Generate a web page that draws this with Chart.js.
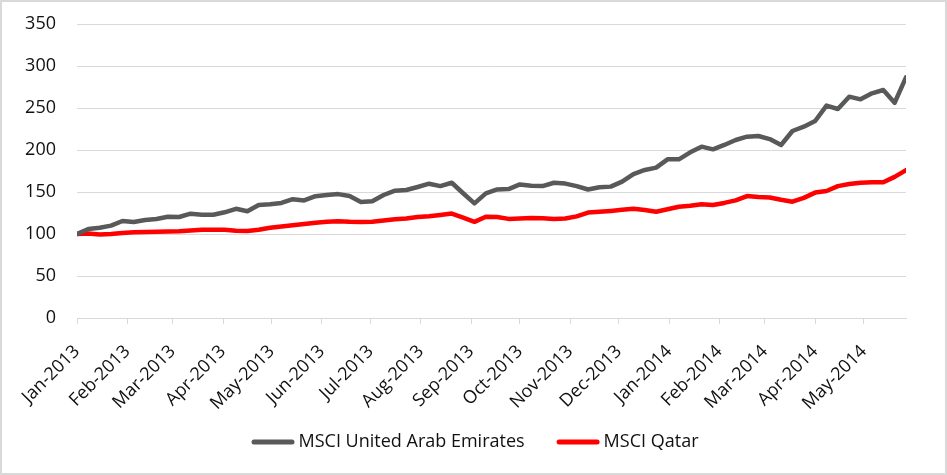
<!DOCTYPE html>
<html>
<head>
<meta charset="utf-8">
<script src="https://cdn.jsdelivr.net/npm/chart.js@4.4.1/dist/chart.umd.min.js"></script>
<style>
  html, body { margin: 0; padding: 0; background: #fff; }
  #wrap { width: 947px; height: 475px; position: relative; }
</style>
</head>
<body>
<div id="wrap"><canvas id="myChart"></canvas></div>
<script>
// weekly index values, rebased to 100 at the start of Jan 2013
const startYear = 2013;
const monthLabels = ['Jan-2013', 'Feb-2013', 'Mar-2013', 'Apr-2013', 'May-2013', 'Jun-2013',
  'Jul-2013', 'Aug-2013', 'Sep-2013', 'Oct-2013', 'Nov-2013', 'Dec-2013',
  'Jan-2014', 'Feb-2014', 'Mar-2014', 'Apr-2014', 'May-2014'];

const uae = [100, 106, 107.5, 110, 115.5, 114.3, 116.7, 117.9, 120.6, 120.2,
  124.2, 123, 123, 125.8, 130, 127, 134.5, 135.5, 137, 141.5,
  140, 145, 146.5, 147.5, 145.2, 138, 138.9, 146.4, 151.6, 152.4,
  156, 159.9, 157, 161, 148.5, 136.5, 148.4, 153, 153.5, 159,
  157.5, 157, 161, 160, 157, 153, 155.6, 156.4, 162.3, 171.4,
  176.2, 179, 188.9, 188.9, 197.2, 204, 200.8, 206, 211.9, 215.9,
  216.7, 213, 206, 222.6, 227.8, 234.5, 252.8, 248.8, 263.5, 260.3,
  267.5, 271.4, 256.3, 286.5];

const qatar = [100, 100.5, 99.3, 100, 101.2, 102, 102.5, 102.7, 103, 103.3,
  104.3, 105, 105, 105, 104, 103.5, 105, 107.5, 109, 110.5,
  112, 113.5, 114.5, 115.3, 114.5, 114.3, 114.5, 116, 117.5, 118.5,
  120.3, 121.2, 122.7, 124.3, 119.5, 114.5, 120.5, 120.3, 118, 118.5,
  119, 118.8, 117.8, 118.5, 121, 125.5, 126.5, 127.5, 128.8, 130,
  128.5, 126.5, 129.5, 132.5, 133.7, 135.5, 134.5, 137, 140, 145.2,
  144, 143.5, 140.8, 138.5, 143, 149.3, 151.2, 157, 159.5, 161,
  161.5, 161.5, 168, 176];

const yTicks = [0, 50, 100, 150, 200, 250, 300, 350];

// days since 1 Jan 2013
const dayMs = 86400000;
const monthDays = monthLabels.map((m, i) => (Date.UTC(startYear, i, 1) - Date.UTC(startYear, 0, 1)) / dayMs);
const toPoints = arr => arr.map((v, k) => ({x: k * 7, y: v}));
const lastDay = (uae.length - 1) * 7;

const frame = {
  id: 'frame',
  beforeDraw(chart) {
    const c = chart.ctx;
    c.save();
    c.fillStyle = '#ffffff';
    c.fillRect(0, 0, chart.width, chart.height);
    c.strokeStyle = '#d9d9d9';
    c.lineWidth = 2;
    c.strokeRect(1, 1, chart.width - 2, chart.height - 2);
    c.restore();
  }
};

// legend drawn by hand so its spacing can match the original
const lineLegend = {
  id: 'lineLegend',
  afterDraw(chart, args, opts) {
    const c = chart.ctx;
    const sets = chart.data.datasets;
    c.save();
    c.font = '18px "Open Sans", "DejaVu Sans", sans-serif';
    c.textBaseline = 'middle';
    c.textAlign = 'left';
    const widths = sets.map(d => c.measureText(d.label).width);
    let total = 0;
    widths.forEach((w, i) => { total += opts.mark + opts.gap + w + (i ? opts.spacing : 0); });
    let x = opts.centerX - total / 2;
    sets.forEach((d, i) => {
      c.strokeStyle = d.borderColor;
      c.lineWidth = 5;
      c.lineCap = 'round';
      c.beginPath();
      c.moveTo(x + 2.5, opts.y);
      c.lineTo(x + opts.mark - 2.5, opts.y);
      c.stroke();
      c.fillStyle = '#111111';
      c.fillText(d.label, x + opts.mark + opts.gap, opts.y);
      x += opts.mark + opts.gap + widths[i] + opts.spacing;
    });
    c.restore();
  }
};

const canvas = document.getElementById('myChart');
const ctx = canvas.getContext('2d');
Chart.defaults.font.family = '"Open Sans", "DejaVu Sans", sans-serif';
Chart.defaults.font.size = 18;
Chart.defaults.color = '#111111';

const myChart = new Chart(ctx, {
  type: 'line',
  data: {
    datasets: [{
      label: 'MSCI United Arab Emirates',
      data: toPoints(uae),
      borderColor: '#58595B',
      backgroundColor: '#58595B',
      borderWidth: 4.5,
      borderCapStyle: 'round',
      borderJoinStyle: 'round',
      pointRadius: 0,
      fill: false,
      tension: 0
    },
    {
      label: 'MSCI Qatar',
      data: toPoints(qatar),
      borderColor: '#FF0000',
      backgroundColor: '#FF0000',
      borderWidth: 4.5,
      borderCapStyle: 'round',
      borderJoinStyle: 'round',
      pointRadius: 0,
      fill: false,
      tension: 0
    }]
  },
  options: {
    responsive: true,
    maintainAspectRatio: false,
    animation: false,
    layout: { padding: { top: 24, bottom: 52, left: 0, right: 0 } },
    plugins: {
      tooltip: { enabled: false },
      legend: { display: false },
      lineLegend: { centerX: 475, y: 442, mark: 43, gap: 4, spacing: 32 }
    },
    scales: {
      x: {
        type: 'linear',
        min: 0,
        max: lastDay,
        afterBuildTicks: s => { s.ticks = monthDays.map(v => ({value: v})); },
        afterFit: s => { s.height = 105; },
        grid: { drawOnChartArea: false, drawTicks: true, tickLength: 6, color: '#d9d9d9', lineWidth: 1 },
        border: { display: true, color: '#d9d9d9', width: 1 },
        ticks: {
          autoSkip: false,
          minRotation: 45,
          maxRotation: 45,
          padding: 17,
          callback: (v, i) => monthLabels[i]
        }
      },
      y: {
        min: 0,
        max: 350,
        afterBuildTicks: s => { s.ticks = yTicks.map(v => ({value: v})); },
        afterFit: s => { s.width = 77; s.paddingTop = 0; s.paddingBottom = 0; },
        grid: { color: '#d9d9d9', lineWidth: 1, drawTicks: false },
        border: { display: false },
        ticks: { padding: 21 }
      },
      yRight: {
        position: 'right',
        display: true,
        afterFit: s => { s.width = 41; s.paddingTop = 0; s.paddingBottom = 0; },
        grid: { display: false },
        border: { display: false },
        ticks: { display: false }
      }
    }
  },
  plugins: [frame, lineLegend]
});
</script>
</body>
</html>
